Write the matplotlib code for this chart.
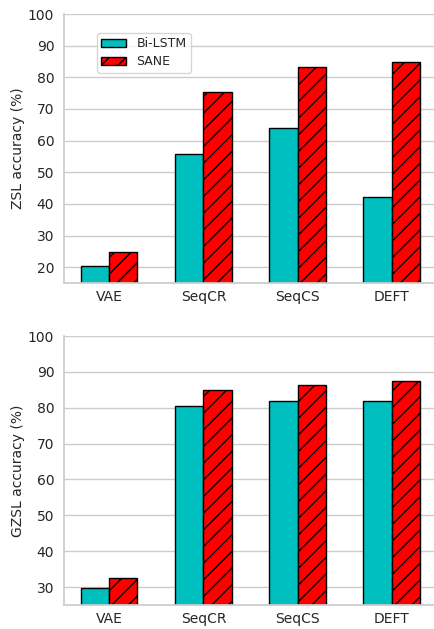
import matplotlib.pyplot as plt
import numpy as np
import seaborn as sns

models = ['VAE', 'SeqCR', 'SeqCS', 'DEFT']
zsl_bilstm = [20.5, 55.9, 64.0, 42.1]
zsl_sane = [24.8, 75.2, 83.1, 84.8]
gzsl_bilstm = [29.8, 80.6, 82.0, 81.9]
gzsl_sane = [32.5, 84.9, 86.3, 87.4]

sns.set_theme(style='whitegrid')

fig = plt.figure(figsize=(4.34, 6.29), dpi=100)
ax1 = fig.add_axes([64 / 434, 1 - 283 / 629, 372 / 434, 269 / 629])
ax2 = fig.add_axes([64 / 434, 1 - 605 / 629, 372 / 434, 269 / 629])

x = np.arange(len(models))
w = 0.3

def draw(ax, bilstm, sane, ylabel, ylim, legend=False):
    ax.bar(x - w / 2, bilstm, w, color='#00bfbf', edgecolor='black', linewidth=1, label='Bi-LSTM')
    ax.bar(x + w / 2, sane, w, color='red', edgecolor='black', linewidth=1, hatch='//', label='SANE')
    ax.set_xticks(x)
    ax.set_xticklabels(models, fontsize=10)
    ax.tick_params(axis='x', length=0, pad=5)
    ax.tick_params(axis='y', length=0, labelsize=10, pad=7)
    ax.set_ylabel(ylabel, fontsize=10, labelpad=2)
    ax.set_ylim(*ylim)
    ax.set_xlim(-0.48, 3.47)
    ax.grid(axis='x', visible=False)
    ax.set_axisbelow(True)
    sns.despine(ax=ax)
    for s in ['left', 'bottom']:
        ax.spines[s].set_color('#cccccc')
    if legend:
        ax.legend(loc='upper left', bbox_to_anchor=(0.089, 0.929), borderaxespad=0,
                  fontsize=9, labelspacing=0.4, borderpad=0.35)

draw(ax1, zsl_bilstm, zsl_sane, 'ZSL accuracy (%)', (15, 100), legend=True)
draw(ax2, gzsl_bilstm, gzsl_sane, 'GZSL accuracy (%)', (25, 100))

fig.savefig('out.png', dpi=100)
